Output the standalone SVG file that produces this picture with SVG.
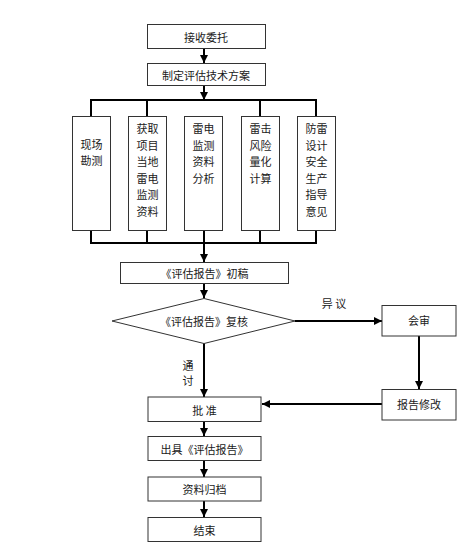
<svg xmlns="http://www.w3.org/2000/svg" width="475" height="553" viewBox="0 0 475 553">
<style>
.box{fill:#fff;stroke:#333;stroke-width:1}
.t{font-family:"Noto Sans CJK SC","Noto Sans CJK TC",sans-serif;font-size:11px;fill:#1a1a1a;text-anchor:middle;dominant-baseline:central}
.ln{fill:none;stroke:#000;stroke-width:2}
.ar{fill:none;stroke:#000;stroke-width:2;marker-end:url(#ah)}
</style>
<defs>
<marker id="ah" markerUnits="userSpaceOnUse" markerWidth="9" markerHeight="9" refX="8" refY="4" orient="auto">
<path d="M0,0 L8,4 L0,8 z" fill="#000"/>
</marker>
</defs>
<rect width="475" height="553" fill="#fff"/>
<g id="connectors">
<path class="ar" d="M204,48 V63"/>
<path class="ar" d="M204,85 V100"/>
<path class="ln" d="M91,116 V100 H316 V116 M147,100 V116 M260,100 V116"/>
<path class="ln" d="M91,231 V243 H316 V231 M147,231 V243 M204,231 V243 M260,231 V243"/>
<path class="ar" d="M204,243 V262"/>
<path class="ar" d="M204,283 V298"/>
<path class="ar" d="M295,321 H382"/>
<path class="ar" d="M419,336 V389"/>
<path class="ar" d="M382,404 H262"/>
<path class="ar" d="M204,343 V397"/>
<path class="ar" d="M204,421 V436"/>
<path class="ar" d="M204,461 V477"/>
<path class="ar" d="M204,501 V517"/>
<text class="t" x="334" y="303">异 议</text>
<text class="t" x="188" y="365">通</text>
<text class="t" x="188" y="380">讨</text>
</g>
<g id="n1"><rect class="box" x="147.5" y="24.5" width="118" height="24"/><text class="t" x="206" y="36.5">接收委托</text></g>
<g id="n2"><rect class="box" x="147.5" y="63.5" width="118" height="22"/><text class="t" x="206" y="74.5">制定评估技术方案</text></g>
<g id="c1"><rect class="box" x="72.5" y="116.5" width="38" height="114"/><text class="t" x="91.5" y="144">现场</text><text class="t" x="91.5" y="160">勘测</text></g>
<g id="c2"><rect class="box" x="128.5" y="116.5" width="38" height="114"/><text class="t" x="147.5" y="128">获取</text><text class="t" x="147.5" y="144.5">项目</text><text class="t" x="147.5" y="161">当地</text><text class="t" x="147.5" y="177.5">雷电</text><text class="t" x="147.5" y="194">监测</text><text class="t" x="147.5" y="210.5">资料</text></g>
<g id="c3"><rect class="box" x="184.5" y="116.5" width="38" height="114"/><text class="t" x="203.5" y="128">雷电</text><text class="t" x="203.5" y="144.5">监测</text><text class="t" x="203.5" y="161">资料</text><text class="t" x="203.5" y="177.5">分析</text></g>
<g id="c4"><rect class="box" x="241.5" y="116.5" width="38" height="114"/><text class="t" x="260.5" y="128">雷击</text><text class="t" x="260.5" y="144.5">风险</text><text class="t" x="260.5" y="161">量化</text><text class="t" x="260.5" y="177.5">计算</text></g>
<g id="c5"><rect class="box" x="297.5" y="116.5" width="38" height="114"/><text class="t" x="316.5" y="128">防雷</text><text class="t" x="316.5" y="144.5">设计</text><text class="t" x="316.5" y="161">安全</text><text class="t" x="316.5" y="177.5">生产</text><text class="t" x="316.5" y="194">指导</text><text class="t" x="316.5" y="210.5">意见</text></g>
<g id="n3"><rect class="box" x="120.5" y="262.5" width="168" height="21"/><text class="t" x="204.5" y="273">《评估报告》初稿</text></g>
<g id="n4"><polygon class="box" points="204,298.5 295,321 204,343.5 112,321"/><text class="t" x="204" y="321">《评估报告》复核</text></g>
<g id="n5"><rect class="box" x="382" y="305.5" width="74" height="30.5"/><text class="t" x="419" y="320">会审</text></g>
<g id="n6"><rect class="box" x="382" y="389.5" width="74" height="30.5"/><text class="t" x="419" y="404">报告修改</text></g>
<g id="n7"><rect class="box" x="148" y="397" width="113" height="24.5"/><text class="t" x="204.5" y="409.5">批 准</text></g>
<g id="n8"><rect class="box" x="148" y="436.5" width="113" height="24"/><text class="t" x="204.5" y="448.5">出具《评估报告》</text></g>
<g id="n9"><rect class="box" x="148" y="477" width="113" height="24"/><text class="t" x="204.5" y="489">资料归档</text></g>
<g id="n10"><rect class="box" x="148" y="517.5" width="113" height="24"/><text class="t" x="204.5" y="529.5">结束</text></g>
</svg>
